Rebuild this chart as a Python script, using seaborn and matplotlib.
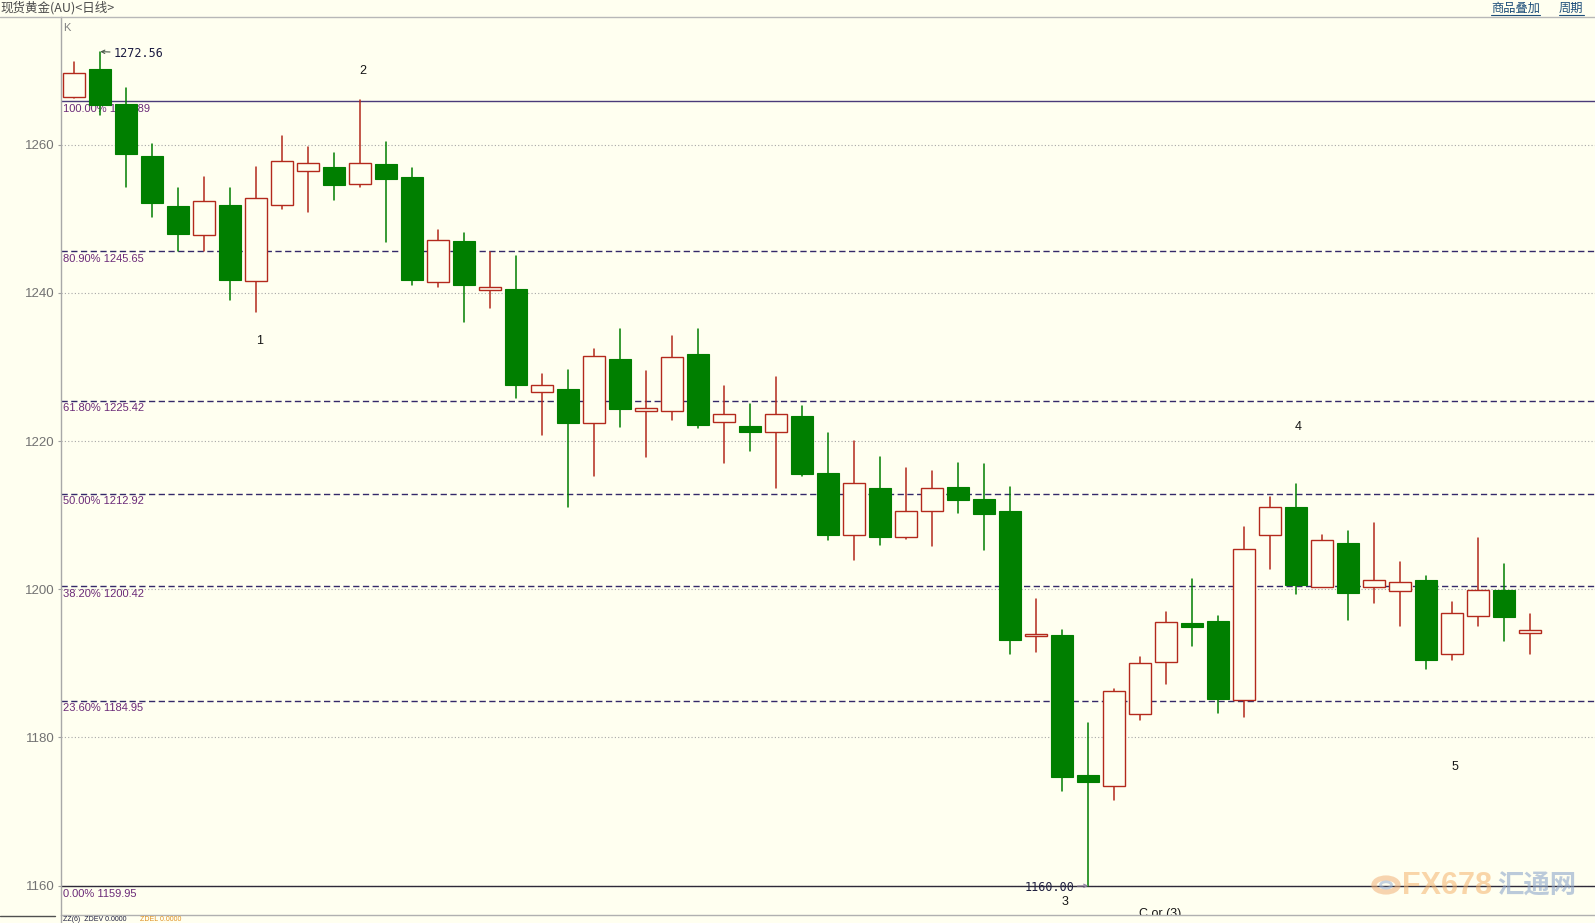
import numpy as np
import pandas as pd
import matplotlib
matplotlib.use("Agg")
import matplotlib.pyplot as plt
from matplotlib.lines import Line2D
from matplotlib.patches import Circle
import seaborn as sns

# ---------------- data ----------------
opens = [1266.4, 1270.2, 1265.5, 1258.5, 1251.7, 1247.8, 1251.85, 1241.6, 1251.9, 1256.4,
         1257.0, 1254.65, 1257.4, 1255.6, 1241.5, 1247.0, 1240.4, 1240.5, 1226.6, 1227.0,
         1222.5, 1231.1, 1224.0, 1224.0, 1231.75, 1222.6, 1222.1, 1221.2, 1223.45, 1215.7,
         1207.3, 1213.6, 1207.1, 1210.5, 1213.8, 1212.2, 1210.6, 1193.7, 1193.8, 1174.9,
         1173.4, 1183.1, 1190.2, 1195.5, 1195.7, 1185.0, 1207.3, 1211.1, 1200.3, 1206.3,
         1200.3, 1199.8, 1201.3, 1191.2, 1196.35, 1199.9, 1194.05]
highs = [1271.1, 1272.56, 1267.6, 1260.05, 1254.2, 1255.6, 1254.2, 1257.0, 1261.2, 1259.65,
         1258.9, 1266.0, 1260.3, 1256.9, 1248.5, 1248.1, 1245.55, 1245.0, 1229.0, 1229.6,
         1232.4, 1235.1, 1229.5, 1234.2, 1235.1, 1227.4, 1225.0, 1228.6, 1224.75, 1221.1,
         1220.0, 1217.8, 1216.3, 1216.0, 1217.05, 1216.9, 1213.8, 1198.7, 1194.5, 1181.9,
         1186.5, 1190.8, 1196.9, 1201.45, 1196.4, 1208.4, 1212.4, 1214.2, 1207.3, 1207.85,
         1209.0, 1203.7, 1201.8, 1198.3, 1206.9, 1203.4, 1196.6]
lows = [1266.3, 1264.0, 1254.3, 1250.3, 1245.65, 1245.65, 1239.1, 1237.45, 1251.3, 1250.9,
        1252.5, 1254.3, 1246.9, 1241.1, 1240.8, 1236.1, 1238.0, 1225.8, 1220.8, 1211.1,
        1215.3, 1221.9, 1217.9, 1222.9, 1221.7, 1217.1, 1218.7, 1213.6, 1215.3, 1206.6,
        1204.0, 1206.0, 1206.8, 1205.9, 1210.3, 1205.35, 1191.3, 1191.6, 1172.8, 1160.0,
        1171.5, 1182.4, 1187.2, 1192.35, 1183.3, 1182.8, 1202.7, 1199.3, 1200.3, 1195.8,
        1198.1, 1195.1, 1189.3, 1190.5, 1195.1, 1193.05, 1191.2]
closes = [1269.7, 1265.3, 1258.7, 1252.1, 1247.9, 1252.35, 1241.8, 1252.8, 1257.75, 1257.5,
          1254.5, 1257.5, 1255.4, 1241.75, 1247.1, 1241.1, 1240.8, 1227.5, 1227.5, 1222.5,
          1231.5, 1224.35, 1224.4, 1231.3, 1222.2, 1223.6, 1221.2, 1223.6, 1215.6, 1207.3,
          1214.3, 1207.1, 1210.6, 1213.7, 1212.1, 1210.1, 1193.2, 1194.0, 1174.6, 1174.0,
          1186.3, 1190.1, 1195.6, 1194.9, 1185.2, 1205.4, 1211.05, 1200.6, 1206.7, 1199.5,
          1201.3, 1201.0, 1190.5, 1196.8, 1199.9, 1196.3, 1194.5]

fib_pcts = ["100.00%", "80.90%", "61.80%", "50.00%", "38.20%", "23.60%", "0.00%"]
fib_levels = [1265.89, 1245.65, 1225.42, 1212.92, 1200.42, 1184.95, 1159.95]
y_ticks = [1160, 1180, 1200, 1220, 1240, 1260]

wave_labels = ["1", "2", "3", "4", "5", "C or (3)"]
wave_x = [7.12, 11.11, 38.1, 47.06, 53.09, 41.75]
wave_y = [1233.5, 1270.0, 1157.8, 1221.9, 1176.0, 1156.2]

peak_idx, peak_val = 1, 1272.56
trough_idx, trough_val = 39, 1160.00

title_text = "现货黄金(AU)<日线>"
menu_items = ["商品叠加", "周期"]
status_items = ["ZZ(6)  ZDEV 0.0000", "ZDEL 0.0000"]

# ---------------- style ----------------
BG = "#FFFFF0"
RED = "#B3291C"
GREEN = "#007F00"
FIB = "#34296A"
FIBTXT = "#6B2A78"
W, H = 1595, 923

sns.set_theme(style="white", rc={"axes.facecolor": BG, "figure.facecolor": BG})
plt.rcParams["font.family"] = ["Liberation Sans", "Noto Sans CJK SC", "DejaVu Sans"]

n = len(opens)
df = pd.DataFrame({"idx": np.arange(n), "open": opens, "high": highs,
                   "low": lows, "close": closes})
df["dir"] = np.where(df["close"] >= df["open"], "up", "down")

fig = plt.figure(figsize=(W / 100, H / 100), dpi=100)
ax_top, ax_bot, ax_left = 17.3, 915.0, 61.0
ax = fig.add_axes([ax_left / W, 1 - ax_bot / H, 1 - ax_left / W, (ax_bot - ax_top) / H])
ax.set_facecolor(BG)


def fpx(x, y):
    return (x / W, 1 - y / H)


# wicks via seaborn (one vertical line per candle)
wick = pd.concat([
    df[["idx", "dir"]].assign(price=df["low"]),
    df[["idx", "dir"]].assign(price=df["high"]),
]).sort_values(["idx", "price"])
sns.lineplot(data=wick, x="idx", y="price", units="idx", estimator=None,
             hue="dir", palette={"up": RED, "down": GREEN}, sort=False,
             linewidth=1.1, legend=False, ax=ax, zorder=3)

# bodies
up = df[df["dir"] == "up"]
dn = df[df["dir"] == "down"]
ax.bar(up["idx"], (up["close"] - up["open"]).clip(lower=0.25), bottom=up["open"],
       width=0.86, facecolor=BG, edgecolor=RED, linewidth=1.0, zorder=4)
ax.bar(dn["idx"], (dn["open"] - dn["close"]).clip(lower=0.25), bottom=dn["close"],
       width=0.86, facecolor=GREEN, edgecolor=GREEN, linewidth=0.8, zorder=4)

# axes ranges
ax.set_xlim(-0.51, 58.49)
ax.set_ylim(1156.04, 1277.19)
ax.set_xticks([])
ax.set_yticks(y_ticks)
ax.set_yticklabels([str(t) for t in y_ticks])
ax.tick_params(axis="y", length=2, width=0.8, color="#A0A0A0", pad=2.5,
               labelsize=9.5, labelcolor="#727272", left=True)
ax.set_xlabel("")
ax.set_ylabel("")
for s in ["top", "right", "bottom"]:
    ax.spines[s].set_visible(False)
ax.spines["left"].set_color("#A8A8A8")
ax.spines["left"].set_linewidth(1.0)

# dotted grid
for t in y_ticks:
    ax.axhline(t, color="#A8A8A8", linestyle=(0, (1, 2)), linewidth=0.8, zorder=1)

# fibonacci levels
for i, (p, lv) in enumerate(zip(fib_pcts, fib_levels)):
    if i == 0:
        ax.axhline(lv, color="#4A3B7A", linewidth=1.0, zorder=2)
    elif i == len(fib_levels) - 1:
        ax.axhline(lv, color="#2E2A3A", linewidth=1.0, zorder=2)
    else:
        ax.axhline(lv, color=FIB, linewidth=1.0, linestyle=(0, (4.5, 2.5)), zorder=2)
    ax.annotate(f"{p} {lv:.2f}", xy=(0, lv), xycoords=("axes fraction", "data"),
                xytext=(2.5, -2.5), textcoords="offset pixels", ha="left", va="top",
                fontsize=8, color=FIBTXT, zorder=2)

# extreme annotations
ax.annotate(f"{peak_val:.2f}", xy=(peak_idx, peak_val), xytext=(13, -1.5),
            textcoords="offset pixels", ha="left", va="center",
            fontfamily="DejaVu Sans Mono", fontsize=8.5, color="#1A1A40",
            arrowprops=dict(arrowstyle="->", color="#4A5A4A", lw=0.8,
                            shrinkA=0, shrinkB=0, mutation_scale=6), zorder=5)
ax.annotate(f"{trough_val:.2f}", xy=(trough_idx, trough_val), xytext=(-14, -1.5),
            textcoords="offset pixels", ha="right", va="center",
            fontfamily="DejaVu Sans Mono", fontsize=8.5, color="#202040",
            arrowprops=dict(arrowstyle="->", color="#9080A0", lw=0.8,
                            shrinkA=0, shrinkB=0, mutation_scale=6), zorder=5)

# wave labels
for lab, x, y in zip(wave_labels, wave_x, wave_y):
    ax.text(x, y, lab, ha="center", va="center", fontsize=9, color="#151515",
            clip_on=True, zorder=5)

# "K" indicator
fig.text(*fpx(63.5, 28), "K", ha="left", va="center", fontsize=8, color="#808080")

# header
fig.text(*fpx(0, 8), title_text, ha="left", va="center", fontsize=9,
         color="#4A4A4A", family=["Noto Sans CJK SC", "DejaVu Sans"])
fig.add_artist(Line2D([0, 1], [1 - 17.3 / H] * 2, transform=fig.transFigure,
                      color="#B8B8B8", linewidth=1.0))
menu_x = [(1491, 1540), (1559, 1584)]
for lab, (x0, x1) in zip(menu_items, menu_x):
    fig.text(*fpx(x0, 8), lab, ha="left", va="center", fontsize=8.8,
             color="#1E4F7A", family=["Noto Sans CJK SC", "DejaVu Sans"])
    fig.add_artist(Line2D([x0 / W, x1 / W], [1 - 14.5 / H] * 2,
                          transform=fig.transFigure, color="#1E4F7A", linewidth=0.8))

# bottom strip
fig.add_artist(Line2D([ax_left / W, 1], [1 - 915 / H] * 2, transform=fig.transFigure,
                      color="#B0B0B0", linewidth=1.0))
fig.add_artist(Line2D([0, 55 / W], [1 - 916 / H] * 2, transform=fig.transFigure,
                      color="#505050", linewidth=1.0))
fig.add_artist(Line2D([ax_left / W] * 2, [0, 1 - 915 / H], transform=fig.transFigure,
                      color="#A8A8A8", linewidth=1.0))
fig.text(*fpx(63, 919.2), status_items[0], ha="left", va="center", fontsize=5,
         color="#202040")
fig.text(*fpx(140, 919.2), status_items[1], ha="left", va="center", fontsize=5,
         color="#E09020")

# watermark
fig.add_artist(Circle(fpx(1386, 885), radius=12 / W, transform=fig.transFigure,
                      facecolor="none", edgecolor="#F2B27A", linewidth=3.8, alpha=0.55))
fig.add_artist(Circle(fpx(1386, 885), radius=5.5 / W, transform=fig.transFigure,
                      facecolor="none", edgecolor="#9FB5D5", linewidth=2.0, alpha=0.6))
fig.text(*fpx(1402, 886), "FX678", ha="left", va="center", fontsize=22,
         fontweight="bold", color="#F5B46E", alpha=0.55)
fig.text(*fpx(1497, 886), "汇通网", ha="left", va="center", fontsize=19,
         fontweight="bold", color="#8FA8CC", alpha=0.6,
         family=["Noto Sans CJK SC", "DejaVu Sans"])

fig.savefig("out.png", dpi=100, facecolor=BG)
